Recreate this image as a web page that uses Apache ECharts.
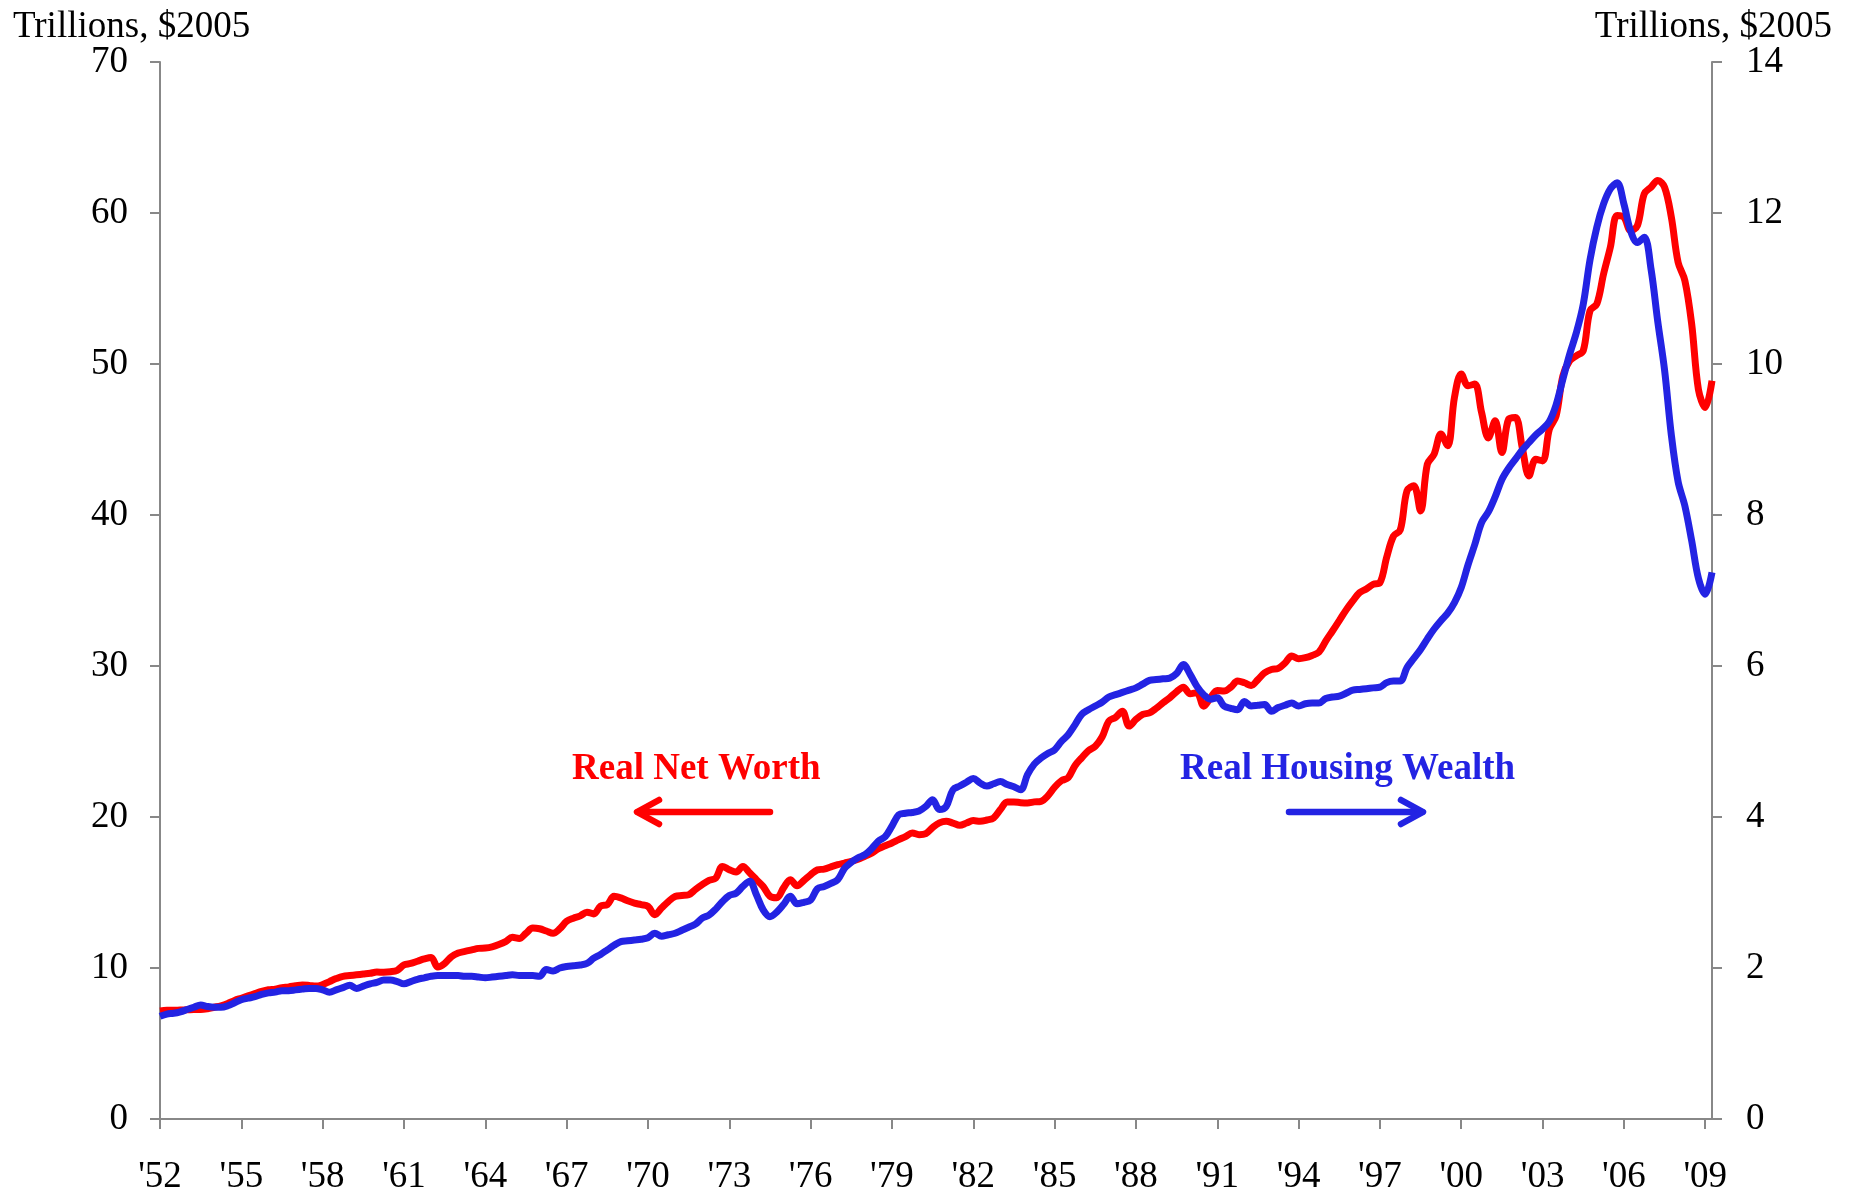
<!DOCTYPE html>
<html>
<head>
<meta charset="utf-8">
<script src="https://cdn.jsdelivr.net/npm/echarts@6/dist/echarts.min.js"></script>
<style>
html,body{margin:0;padding:0;background:#fff;}
#chart{width:1850px;height:1191px;}
</style>
</head>
<body>
<div id="chart"></div>
<script>
// Quarterly observations, 1952Q1 .. 2009Q2
const startYear = 1952;
const tickYears = ["'52","'55","'58","'61","'64","'67","'70","'73","'76","'79","'82","'85","'88","'91","'94","'97","'00","'03","'06","'09"];

// Real Net Worth, trillions of 2005 dollars (left axis)
const netWorth = [
  7.16, 7.2, 7.2, 7.22,
  7.23, 7.25, 7.25, 7.3,
  7.4, 7.5, 7.65, 7.85,
  8.0, 8.15, 8.3, 8.45,
  8.56, 8.6, 8.7, 8.75,
  8.82, 8.88, 8.85, 8.8,
  8.9, 9.1, 9.3, 9.45,
  9.5, 9.55, 9.6, 9.65,
  9.73, 9.72, 9.75, 9.85,
  10.2, 10.3, 10.45, 10.6,
  10.7, 10.06, 10.3, 10.75,
  10.99, 11.1, 11.2, 11.3,
  11.32, 11.4, 11.55, 11.75,
  12.03, 11.95, 12.3, 12.65,
  12.6, 12.45, 12.3, 12.6,
  13.09, 13.3, 13.45, 13.7,
  13.58, 14.1, 14.2, 14.75,
  14.64, 14.45, 14.3, 14.2,
  14.08, 13.53, 13.97, 14.4,
  14.74, 14.8, 14.85, 15.2,
  15.52, 15.8, 15.95, 16.73,
  16.51, 16.36, 16.73, 16.3,
  15.85, 15.4, 14.75, 14.65,
  15.3, 15.85, 15.45, 15.8,
  16.18, 16.5, 16.55, 16.7,
  16.84, 16.95, 17.06, 17.2,
  17.4, 17.6, 17.9, 18.1,
  18.28, 18.5, 18.7, 18.94,
  18.83, 18.9, 19.3, 19.61,
  19.72, 19.6, 19.45, 19.6,
  19.76, 19.72, 19.8, 19.94,
  20.49, 21.0, 21.0, 20.95,
  20.93, 21.0, 21.04, 21.4,
  21.97, 22.4, 22.6, 23.4,
  23.92, 24.4, 24.69, 25.3,
  26.35, 26.6, 27.01, 26.02,
  26.46, 26.79, 26.9, 27.2,
  27.56, 27.9, 28.3, 28.6,
  28.16, 28.23, 27.34, 27.9,
  28.38, 28.34, 28.6, 29.0,
  28.89, 28.71, 29.1, 29.55,
  29.77, 29.84, 30.2, 30.66,
  30.48, 30.55, 30.7, 30.92,
  31.65, 32.32, 33.0, 33.7,
  34.31, 34.86, 35.1, 35.41,
  35.52, 37.2, 38.6, 39.0,
  41.6, 41.93, 40.27, 43.37,
  44.03, 45.36, 44.58, 47.79,
  49.34, 48.56, 48.67, 46.79,
  45.1, 46.24, 44.14, 46.35,
  46.46, 44.47, 42.59, 43.69,
  43.58, 45.68, 46.57, 49.22,
  50.21, 50.55, 50.88, 53.53,
  53.97, 55.96, 57.73, 59.83,
  59.72, 58.83, 59.17, 61.27,
  61.71, 62.15, 61.71, 59.72,
  56.73, 55.52, 52.65, 48.3,
  47.12, 48.89
];

// Real Housing Wealth, trillions of 2005 dollars (right axis)
const housingWealth = [
  1.36, 1.39, 1.40, 1.42,
  1.45, 1.48, 1.51, 1.49,
  1.48, 1.48, 1.50, 1.54,
  1.58, 1.60, 1.62, 1.65,
  1.67, 1.68, 1.70, 1.70,
  1.71, 1.72, 1.73, 1.73,
  1.71, 1.68, 1.71, 1.74,
  1.77, 1.73, 1.76, 1.79,
  1.81, 1.84, 1.84, 1.82,
  1.79, 1.82, 1.85, 1.87,
  1.89, 1.90, 1.90, 1.90,
  1.90, 1.89, 1.89, 1.88,
  1.87, 1.88, 1.89, 1.90,
  1.91, 1.90, 1.90, 1.90,
  1.89, 1.98, 1.96, 2.00,
  2.02, 2.03, 2.04, 2.06,
  2.13, 2.18, 2.24, 2.30,
  2.35, 2.36, 2.37, 2.38,
  2.40, 2.46, 2.42, 2.44,
  2.46, 2.50, 2.54, 2.58,
  2.66, 2.70, 2.78, 2.88,
  2.96, 2.99, 3.08, 3.15,
  2.97, 2.77, 2.68, 2.74,
  2.84, 2.95, 2.85, 2.87,
  2.90, 3.05, 3.08, 3.12,
  3.17, 3.32, 3.40, 3.46,
  3.50, 3.58, 3.68, 3.74,
  3.88, 4.03, 4.05, 4.06,
  4.08, 4.14, 4.23, 4.10,
  4.14, 4.36, 4.41, 4.46,
  4.51, 4.45, 4.41, 4.44,
  4.47, 4.43, 4.40, 4.36,
  4.56, 4.70, 4.78, 4.84,
  4.89, 5.00, 5.09, 5.22,
  5.36, 5.42, 5.47, 5.52,
  5.59, 5.62, 5.65, 5.68,
  5.71, 5.76, 5.81, 5.82,
  5.83, 5.84, 5.90, 6.02,
  5.89, 5.73, 5.62, 5.56,
  5.58, 5.47, 5.44, 5.42,
  5.53, 5.47, 5.48, 5.49,
  5.40, 5.45, 5.48, 5.51,
  5.47, 5.50, 5.51, 5.51,
  5.57, 5.59, 5.60, 5.64,
  5.68, 5.69, 5.70, 5.71,
  5.72, 5.78, 5.80, 5.80,
  5.98, 6.10, 6.22, 6.36,
  6.49, 6.60, 6.70, 6.84,
  7.04, 7.34, 7.61, 7.90,
  8.04, 8.24, 8.47, 8.62,
  8.74, 8.86, 8.96, 9.06,
  9.14, 9.24, 9.46, 9.80,
  10.13, 10.42, 10.79, 11.38,
  11.81, 12.12, 12.32, 12.40,
  12.12, 11.76, 11.61, 11.68,
  11.26, 10.56, 9.92, 9.06,
  8.44, 8.12, 7.66, 7.16,
  6.95, 7.24
];

const quarters = netWorth.map((_, i) => (startYear + Math.floor(i / 4)) + 'Q' + (i % 4 + 1));
const tickLabelFor = {};
tickYears.forEach((lab, k) => { tickLabelFor[k * 12] = lab; });

const FONT = 'Liberation Serif';
const RED = '#FF0000';
const BLUE = '#2323E3';
const AXIS = '#888888';

const chart = echarts.init(document.getElementById('chart'), null, {renderer: 'canvas'});
chart.setOption({
  animation: false,
  backgroundColor: '#ffffff',
  grid: {left: 160, right: 138, top: 62, height: 1057, containLabel: false, outerBoundsMode: 'none'},
  xAxis: {
    type: 'category',
    data: quarters,
    boundaryGap: false,
    axisLine: {show: true, lineStyle: {color: AXIS, width: 2}},
    axisTick: {show: true, length: 10, lineStyle: {color: AXIS, width: 2},
      interval: (idx) => idx % 12 === 0},
    axisLabel: {show: true, interval: (idx) => idx % 12 === 0, margin: 40,
      formatter: (v, idx) => tickLabelFor[idx] || '',
      fontFamily: FONT, fontSize: 37, color: '#000'},
    splitLine: {show: false}
  },
  yAxis: [
    {type: 'value', min: 0, max: 70, interval: 10, position: 'left',
      axisLine: {show: true, lineStyle: {color: AXIS, width: 2}},
      axisTick: {show: true, length: 10, lineStyle: {color: AXIS, width: 2}},
      axisLabel: {margin: 32, fontFamily: FONT, fontSize: 37, color: '#000', padding: [7, 0, 0, 0]},
      splitLine: {show: false}},
    {type: 'value', min: 0, max: 14, interval: 2, position: 'right',
      axisLine: {show: true, lineStyle: {color: AXIS, width: 2}},
      axisTick: {show: true, length: 10, lineStyle: {color: AXIS, width: 2}},
      axisLabel: {margin: 34, fontFamily: FONT, fontSize: 37, color: '#000', padding: [7, 0, 0, 0]},
      splitLine: {show: false}}
  ],
  series: [
    {name: 'Real Net Worth', type: 'line', yAxisIndex: 0, data: netWorth,
      showSymbol: false, smooth: 0.35, lineStyle: {color: RED, width: 7}, itemStyle: {color: RED}},
    {name: 'Real Housing Wealth', type: 'line', yAxisIndex: 1, data: housingWealth,
      showSymbol: false, smooth: 0.35, lineStyle: {color: BLUE, width: 7}, itemStyle: {color: BLUE}}
  ],
  graphic: [
    {type: 'text', left: 13, top: 9, style: {text: 'Trillions, $2005', font: '37px "Liberation Serif"', fill: '#000'}},
    {type: 'text', right: 18, top: 9, style: {text: 'Trillions, $2005', font: '37px "Liberation Serif"', fill: '#000'}},
    {type: 'text', left: 572, top: 751, style: {text: 'Real Net Worth', font: 'bold 37px "Liberation Serif"', fill: RED}},
    {type: 'text', left: 1180, top: 751, style: {text: 'Real Housing Wealth', font: 'bold 37px "Liberation Serif"', fill: BLUE}},
    {type: 'polyline', shape: {points: [[770, 812], [638, 812]]}, style: {stroke: RED, lineWidth: 6.5, lineCap: 'round', fill: null}},
    {type: 'polyline', shape: {points: [[659, 800], [637, 812], [659, 824]]}, style: {stroke: RED, lineWidth: 6.5, lineCap: 'round', lineJoin: 'round', fill: null}},
    {type: 'polyline', shape: {points: [[1289, 812], [1422, 812]]}, style: {stroke: BLUE, lineWidth: 6.5, lineCap: 'round', fill: null}},
    {type: 'polyline', shape: {points: [[1401, 800], [1423, 812], [1401, 824]]}, style: {stroke: BLUE, lineWidth: 6.5, lineCap: 'round', lineJoin: 'round', fill: null}}
  ]
});
</script>
</body>
</html>
